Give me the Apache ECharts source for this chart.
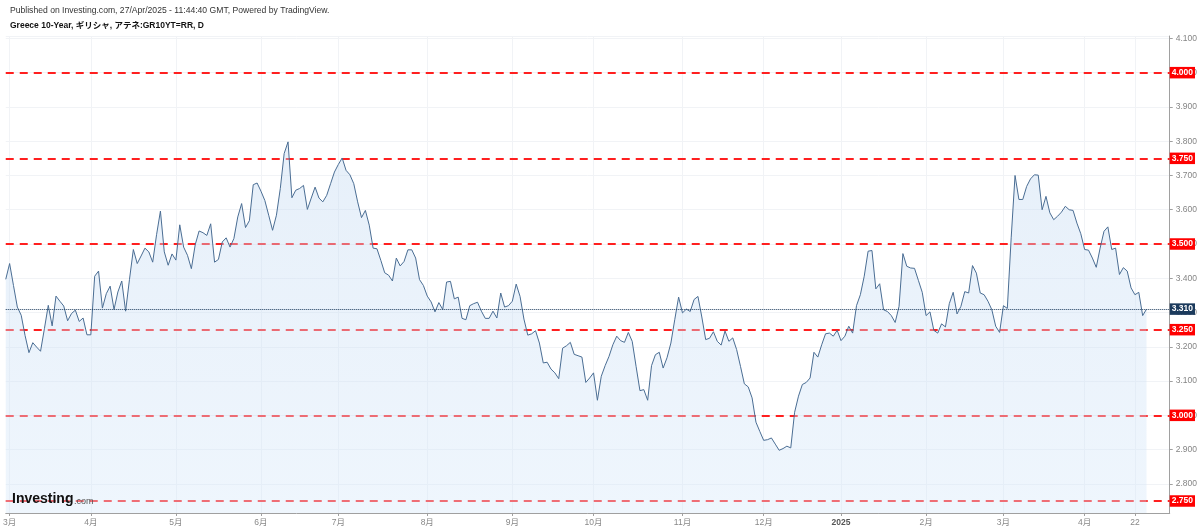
<!DOCTYPE html>
<html><head><meta charset="utf-8">
<script src="https://cdn.jsdelivr.net/npm/echarts@6/dist/echarts.min.js"></script>
<style>html,body{margin:0;padding:0;background:#fff}#c{width:1200px;height:530px}</style>
</head><body><div id="c"></div>
<script>
// Greece 10-Year yield, daily closes
const yields = [
3.397,3.443,3.379,3.316,3.292,3.233,3.183,3.212,3.199,3.187,
3.253,3.321,3.261,3.348,3.333,3.319,3.276,3.297,3.307,3.274,
3.284,3.235,3.235,3.406,3.421,3.313,3.355,3.377,3.309,3.360,
3.392,3.304,3.397,3.484,3.443,3.465,3.488,3.477,3.447,3.527,
3.596,3.477,3.438,3.471,3.453,3.556,3.491,3.467,3.428,3.498,
3.538,3.533,3.525,3.559,3.447,3.455,3.506,3.518,3.491,
3.516,3.579,3.618,3.548,3.568,3.673,3.678,3.654,3.627,3.584,
3.540,3.584,3.662,3.764,3.798,3.635,3.657,3.662,3.671,3.601,
3.634,3.666,3.634,3.623,3.642,3.676,3.710,3.732,3.751,3.715,
3.702,3.676,3.623,3.577,3.598,3.555,3.488,3.486,3.452,3.416,
3.409,3.392,3.459,3.436,3.449,3.483,3.483,3.459,3.396,3.379,
3.348,3.331,3.302,3.329,3.309,3.389,3.391,3.340,3.345,
3.283,3.279,3.320,3.326,3.330,3.304,3.283,3.283,3.304,3.284,
3.357,3.316,3.320,3.333,3.383,3.347,3.281,3.234,3.238,3.247,
3.211,3.153,3.155,3.135,3.124,3.107,3.196,3.203,3.213,3.178,
3.174,3.170,3.096,3.109,3.124,3.044,3.114,3.145,3.172,3.206,
3.231,3.218,3.213,3.242,3.216,3.143,3.072,3.075,3.044,3.145,
3.177,3.184,3.138,3.168,3.211,3.279,3.345,3.299,3.310,
3.303,3.338,3.347,3.287,3.221,3.225,3.244,3.216,3.205,3.246,
3.216,3.226,3.192,3.143,3.092,3.083,3.051,2.980,2.953,2.927,
2.929,2.934,2.916,2.898,2.903,2.910,2.905,3.009,3.056,3.090,
3.096,3.109,3.184,3.170,3.206,3.238,3.240,3.231,3.248,3.218,
3.231,3.260,3.240,3.320,3.352,3.406,3.479,3.481,3.369,3.384,
3.308,3.303,3.291,3.271,3.318,3.472,3.435,3.430,3.429,
3.394,3.359,3.291,3.302,3.248,3.240,3.267,3.258,3.326,3.359,
3.296,3.318,3.361,3.357,3.437,3.415,3.357,3.352,3.333,3.308,
3.260,3.242,3.320,3.312,3.518,3.700,3.630,3.630,3.668,3.690,
3.702,3.701,3.600,3.639,3.591,3.571,3.581,3.593,3.610,3.600,
3.598,3.561,3.530,3.484,3.482,3.459,3.432,3.488,3.537,3.550,
3.484,3.488,3.411,3.431,3.421,3.372,3.352,3.359,3.291,3.310
];
// horizontal reference levels (red dashed lines)
const levels = [4.0, 3.75, 3.5, 3.25, 3.0, 2.75];
// trading calendar
const startDate = '2024-02-29';
const holidays = ['2024-05-01','2024-12-25','2024-12-26','2025-01-01','2025-04-18','2025-04-21'];
const padDays = 6;            // empty bars to the right of the last close
const dayLabel = '2025-04-22';
const titleLine1 = 'Published on Investing.com, 27/Apr/2025 - 11:44:40 GMT, Powered by TradingView.';
const titleLine2 = 'Greece 10-Year, ギリシャ, アテネ:GR10YT=RR, D';

function businessDays(start, count) {
  const out = [];
  const d = new Date(start + 'T00:00:00Z');
  while (out.length < count) {
    const wd = d.getUTCDay();
    const s = d.toISOString().slice(0, 10);
    if (wd !== 0 && wd !== 6 && holidays.indexOf(s) < 0) out.push(s);
    d.setUTCDate(d.getUTCDate() + 1);
  }
  return out;
}
const categories = businessDays(startDate, yields.length + padDays);
const lastValue = yields[yields.length - 1];

function isLabelIdx(i) {
  if (i <= 0 || i >= yields.length) return false;
  const c = categories[i];
  if (c === dayLabel) return true;
  return c.slice(5, 7) !== categories[i - 1].slice(5, 7);
}
function xLabel(v) {
  if (v === dayLabel) return '22';
  const m = parseInt(v.slice(5, 7), 10);
  if (m === 1) return '{b|' + v.slice(0, 4) + '}';
  return m + '月';
}

const FF = "'Liberation Sans', Arial, 'Noto Sans CJK JP', sans-serif";
const chart = echarts.init(document.getElementById('c'), null, {renderer: 'canvas'});
chart.setOption({
  animation: false,
  backgroundColor: '#ffffff',
  grid: {left: 5, right: 29, top: 36, bottom: 17},
  xAxis: {
    type: 'category', data: categories, boundaryGap: false,
    axisLine: {lineStyle: {color: '#a0a0a0', width: 1}},
    axisTick: {show: true, interval: (i) => isLabelIdx(i), length: 3, lineStyle: {color: '#a0a0a0'}},
    axisLabel: {interval: (i) => isLabelIdx(i), formatter: xLabel, color: '#888', fontSize: 8.5,
      margin: 5, fontFamily: FF, rich: {b: {fontWeight: 'bold', color: '#555', fontSize: 8.5, fontFamily: FF}}},
    splitLine: {show: true, interval: (i) => isLabelIdx(i), lineStyle: {color: '#f1f3f6', width: 1}}
  },
  yAxis: {
    type: 'value', position: 'right', min: 2.715, max: 4.107, splitNumber: 14,
    axisLine: {show: true, lineStyle: {color: '#a0a0a0'}},
    axisTick: {show: true, length: 3, lineStyle: {color: '#a0a0a0'}},
    axisLabel: {color: '#858585', fontSize: 8.5, margin: 6, fontFamily: FF, showMinLabel: false, showMaxLabel: false,
      formatter: (v) => Math.abs(v * 10 - Math.round(v * 10)) < 1e-6 ? v.toFixed(3) : ''},
    splitLine: {show: true, lineStyle: {color: '#f1f3f6', width: 1}}
  },
  series: [
    {
      name: 'levels', type: 'line', data: yields, symbol: 'none', silent: true, z: 1,
      lineStyle: {opacity: 0}, tooltip: {show: false},
      markLine: {
        silent: true, symbol: 'none', animation: false, z: 1,
        lineStyle: {color: '#ff1f1f', type: [8, 6], width: 2},
        label: {show: true, position: 'end', distance: 0, formatter: (p) => Number(p.value).toFixed(3),
          color: '#fff', backgroundColor: '#ff0000', fontWeight: 'bold', fontSize: 8.5, fontFamily: FF,
          padding: [2, 2, 1, 2]},
        data: levels.map(v => ({yAxis: v}))
      }
    },
    {
      name: 'GR10YT=RR', type: 'line', data: yields, symbol: 'none', z: 3,
      lineStyle: {color: '#4a6d93', width: 1},
      areaStyle: {color: new echarts.graphic.LinearGradient(0, 0, 0, 1, [
        {offset: 0, color: 'rgba(193,216,241,0.56)'},
        {offset: 1, color: 'rgba(214,232,250,0.56)'}
      ])},
      markLine: {
        silent: true, symbol: 'none', animation: false, z: 5,
        lineStyle: {color: '#1b3a5c', type: 'dotted', width: 1},
        label: {show: true, position: 'end', distance: 0, formatter: (p) => Number(p.value).toFixed(3),
          color: '#fff', backgroundColor: '#1b3a5c', fontWeight: 'bold', fontSize: 8.5, fontFamily: FF,
          padding: [2, 2, 1, 2]},
        data: [{yAxis: lastValue}]
      }
    }
  ],
  graphic: [
    {type: 'text', left: 10, top: 6, z: 10, style: {text: titleLine1, fill: '#333', font: '8.6px ' + FF}},
    {type: 'text', left: 10, top: 21, z: 10, style: {text: titleLine2, fill: '#111', font: 'bold 8.5px ' + FF}},
    {type: 'text', left: 12, top: 492, z: 10, style: {text: 'Investing', fill: '#111', font: 'bold 14px ' + FF}},
    {type: 'text', left: 74, top: 497, z: 10, style: {text: '.com', fill: '#555', font: '9px ' + FF}}
  ]
});
</script>
</body></html>
